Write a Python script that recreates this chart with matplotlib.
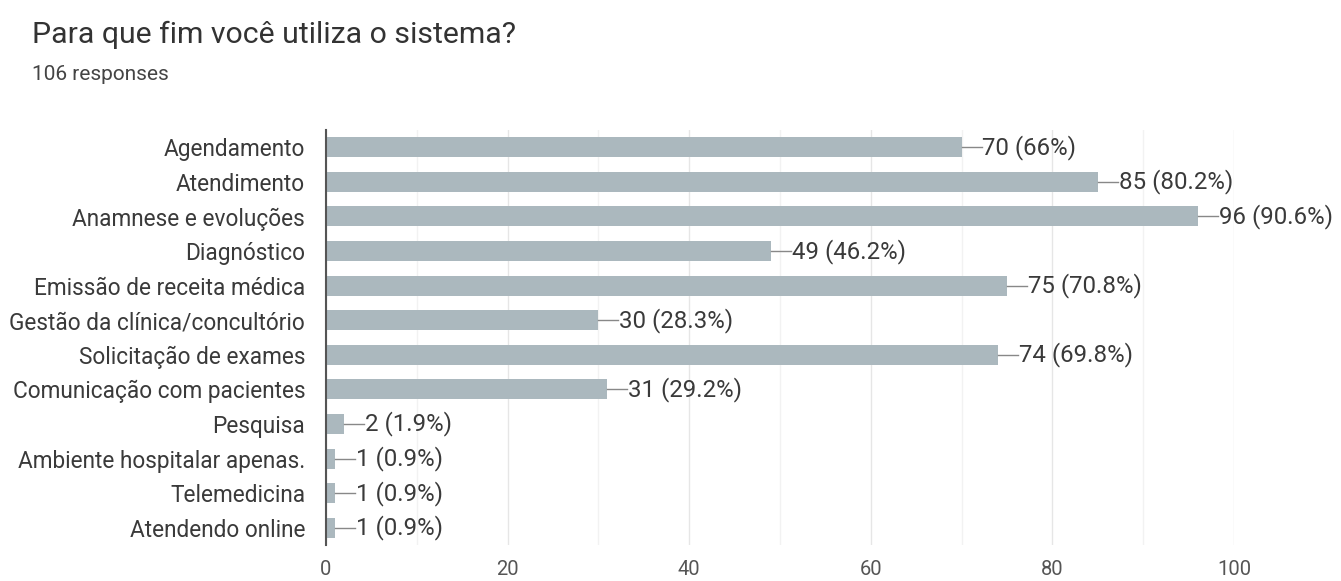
import matplotlib
matplotlib.use("Agg")
import matplotlib.pyplot as plt

categories = ["Agendamento", "Atendimento", "Anamnese e evoluções", "Diagnóstico",
              "Emissão de receita médica", "Gestão da clínica/concultório",
              "Solicitação de exames", "Comunicação com pacientes", "Pesquisa",
              "Ambiente hospitalar apenas.", "Telemedicina", "Atendendo online"]
counts = [70, 85, 96, 49, 75, 30, 74, 31, 2, 1, 1, 1]
percent_labels = ["66%", "80.2%", "90.6%", "46.2%", "70.8%", "28.3%", "69.8%",
                  "29.2%", "1.9%", "0.9%", "0.9%", "0.9%"]
x_ticks = [0, 20, 40, 60, 80, 100]

plt.rcParams['font.family'] = ['Roboto', 'DejaVu Sans']

fig = plt.figure(figsize=(13.41, 5.81), dpi=100)
x0, x1, y0, y1 = 326, 1234, 130, 545
ax = fig.add_axes([x0/1341, 1-y1/581, (x1-x0)/1341, (y1-y0)/581])

ypos = list(range(len(categories)))
bar_color = "#abb8be"
ax.barh(ypos, counts, height=0.58, color=bar_color, zorder=2)
ax.set_ylim(len(categories)-0.5, -0.5)
ax.set_xlim(0, 100)

ax.set_yticks(ypos)
ax.set_yticklabels(categories, fontsize=16.3, color="#3a3a3a")
ax.set_xticks(x_ticks)
ax.set_xticklabels([str(t) for t in x_ticks], fontsize=14.5, color="#555555")
ax.set_xticks(range(10, 100, 20), minor=True)
ax.tick_params(axis='y', length=0, pad=15)
ax.tick_params(axis='x', length=0, pad=11)
ax.tick_params(axis='x', which='minor', length=0)

ax.grid(axis='x', which='major', color="#e6e6e6", linewidth=1, zorder=0)
ax.grid(axis='x', which='minor', color="#f2f2f2", linewidth=1, zorder=0)
for s in ["top", "right", "bottom"]:
    ax.spines[s].set_visible(False)
ax.spines["left"].set_color("#555555")
ax.spines["left"].set_linewidth(1.5)
ax.spines["left"].set_zorder(3)

for y, c, p in zip(ypos, counts, percent_labels):
    ax.plot([c, c + 2.2], [y, y], color="#888888", linewidth=1, zorder=3)
    ax.text(c + 2.3, y, f"{c} ({p})", va="center", ha="left",
            fontsize=17.3, color="#3a3a3a")

fig.text(32/1341, 1-35/581, "Para que fim você utiliza o sistema?",
         fontsize=21.8, color="#333333", va="center", ha="left")
fig.text(32/1341, 1-74/581, "106 responses", fontsize=15, color="#444444",
         va="center", ha="left")

fig.savefig("out.png", dpi=100, facecolor="white")
